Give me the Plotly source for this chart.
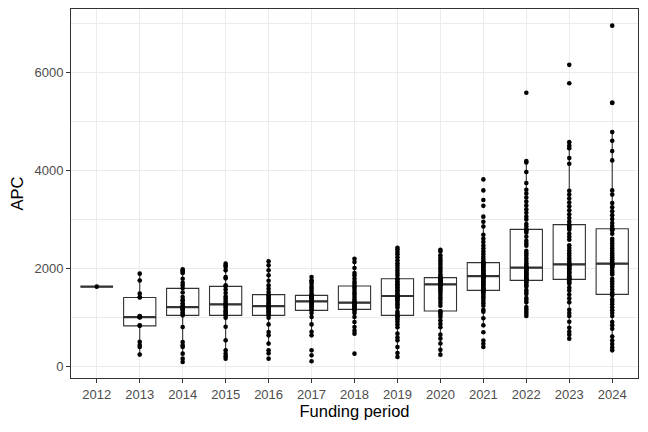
import numpy as np
import plotly.graph_objects as go

# APC values per funding period
years = ['2012', '2013', '2014', '2015', '2016', '2017', '2018',
         '2019', '2020', '2021', '2022', '2023', '2024']

apc_2012 = [1620]
apc_2013 = [233, 390, 430, 495, 820, 830, 990, 1000, 1000, 1000, 1010, 1020,
            1400, 1410, 1480, 1745, 1886]
apc_2014 = [82, 150, 252, 388, 422, 490, 796, 1034, 1060, 1100, 1150, 1150,
            1170, 1200, 1204, 1238, 1280, 1341, 1341, 1408, 1500, 1586, 1647,
            1700, 1783, 1900, 1918, 1950, 1973]
apc_2015 = [150, 200, 252, 320, 524, 800, 985, 1034, 1050, 1085, 1120, 1150,
            1200, 1230, 1259, 1290, 1330, 1380, 1420, 1490, 1560, 1627, 1647,
            1790, 1816, 1953, 2020, 2055, 2090]
apc_2016 = [150, 258, 320, 457, 626, 694, 850, 985, 1034, 1060, 1090, 1120,
            1150, 1170, 1190, 1210, 1224, 1250, 1280, 1310, 1350, 1380, 1410,
            1440, 1457, 1510, 1580, 1650, 1740, 1851, 1953, 2055, 2137]
apc_2017 = [96, 218, 320, 626, 700, 850, 1000, 1080, 1136, 1160, 1190, 1220,
            1250, 1270, 1290, 1310, 1320, 1340, 1360, 1380, 1400, 1410, 1420,
            1435, 1443, 1480, 1530, 1580, 1620, 1680, 1720, 1750, 1816]
apc_2018 = [252, 661, 720, 796, 900, 1000, 1080, 1130, 1157, 1170, 1190, 1210,
            1230, 1250, 1270, 1285, 1293, 1320, 1360, 1410, 1460, 1500, 1550,
            1600, 1633, 1680, 1720, 1783, 1850, 1900, 2000, 2122, 2191]
apc_2019 = [184, 265, 388, 524, 580, 661, 790, 850, 905, 950, 985, 1010,
            1034, 1070, 1110, 1190, 1225, 1260, 1290, 1330, 1350, 1380, 1400,
            1418, 1429, 1450, 1480, 1515, 1545, 1575, 1610, 1640, 1670, 1700,
            1725, 1770, 1783, 1850, 1900, 1950, 2000, 2050, 2100, 2160, 2220,
            2280, 2330, 2380, 2416]
apc_2020 = [232, 330, 460, 560, 640, 790, 860, 930, 1000, 1040, 1080, 1105,
            1122, 1230, 1290, 1350, 1400, 1450, 1500, 1540, 1580, 1615, 1640,
            1655, 1667, 1675, 1685, 1695, 1705, 1715, 1728, 1740, 1752, 1765,
            1790, 1800, 1804, 1830, 1870, 1920, 1965, 2010, 2060, 2110, 2160,
            2210, 2260, 2345, 2375]
apc_2021 = [388, 455, 520, 690, 830, 975, 1110, 1150, 1230, 1280, 1330, 1380,
            1420, 1460, 1495, 1510, 1525, 1545, 1560, 1578, 1595, 1612, 1648,
            1665, 1680, 1710, 1725, 1740, 1770, 1786, 1800, 1815, 1822, 1830,
            1837, 1846, 1860, 1874, 1890, 1905, 1935, 1950, 1964, 1980, 2010,
            2025, 2040, 2068, 2080, 2092, 2102, 2110, 2140, 2185, 2230, 2285,
            2340, 2400, 2460, 2530, 2600, 2680, 2850, 2945, 3050, 3270, 3390,
            3586, 3810]
apc_2022 = [1020, 1065, 1110, 1160, 1205, 1300, 1350, 1390, 1470, 1510, 1550,
            1620, 1650, 1685, 1715, 1738, 1749, 1760, 1774, 1790, 1806, 1836,
            1850, 1866, 1895, 1910, 1926, 1955, 1968, 1980, 1990, 2000, 2008,
            2030, 2065, 2100, 2150, 2200, 2250, 2300, 2350, 2455, 2500, 2555,
            2640, 2720, 2760, 2775, 2790, 2850, 2900, 2990, 3050, 3130, 3200,
            3280, 3360, 3440, 3520, 3600, 3735, 3960, 4157, 4184, 5580]
apc_2023 = [559, 640, 700, 780, 905, 1020, 1080, 1150, 1300, 1380, 1460, 1540,
            1600, 1680, 1710, 1752, 1769, 1790, 1808, 1830, 1850, 1890, 1910,
            1930, 1965, 1980, 1995, 2025, 2040, 2052, 2060, 2070, 2076, 2110,
            2150, 2200, 2250, 2300, 2355, 2410, 2465, 2580, 2640, 2700, 2780,
            2820, 2840, 2875, 2886, 2950, 3020, 3100, 3180, 3260, 3340, 3420,
            3500, 3580, 4131, 4245, 4449, 4500, 4571, 5775, 6150]
apc_2024 = [320, 380, 450, 520, 600, 760, 830, 900, 1020, 1080, 1140, 1200,
            1260, 1310, 1360, 1440, 1463, 1500, 1560, 1620, 1680, 1730, 1780,
            1870, 1910, 1950, 2000, 2020, 2040, 2055, 2065, 2085, 2090, 2140,
            2180, 2220, 2260, 2300, 2350, 2400, 2450, 2500, 2550, 2600, 2700,
            2770, 2785, 2800, 2804, 2860, 2920, 3000, 3080, 3160, 3240, 3330,
            3500, 3586, 4198, 4388, 4600, 4776, 5370, 5380, 6950]

groups = [apc_2012, apc_2013, apc_2014, apc_2015, apc_2016, apc_2017, apc_2018,
          apc_2019, apc_2020, apc_2021, apc_2022, apc_2023, apc_2024]

xs = []
ys = []
for yr, vals in zip(years, groups):
    xs += [yr] * len(vals)
    ys += vals

dark = '#333333'
font = 'Liberation Sans, Arial, sans-serif'

fig = go.Figure()
# points are hidden here (drawn by the scatter below); 'outliers' keeps
# the whiskers at 1.5 IQR like ggplot
fig.add_trace(go.Box(
    x=xs, y=ys, boxpoints='outliers', quartilemethod='inclusive',
    marker=dict(opacity=0, size=1), width=0.75, whiskerwidth=0,
    fillcolor='white', line=dict(color=dark, width=1.1),
    showlegend=False, hoverinfo='skip'))

# ggplot draws the median twice as thick as the box outline
medians = [float(np.median(v)) for v in groups]
fig.add_trace(go.Scatter(
    x=years, y=medians, mode='markers', showlegend=False, hoverinfo='skip',
    marker=dict(symbol='line-ew', size=23.3, line=dict(color=dark, width=2.2))))

fig.add_trace(go.Scatter(
    x=xs, y=ys, mode='markers', showlegend=False,
    marker=dict(color='black', size=4.6)))

# the page body has an 8px margin, so the figure is 8px smaller than the window
fig.update_layout(
    width=640, height=424,
    margin=dict(l=63, r=10, t=1, b=54),
    paper_bgcolor='white', plot_bgcolor='white',
    font=dict(family=font, color='black'),
)
fig.update_xaxes(
    type='category', categoryorder='array', categoryarray=years,
    range=[-0.6, 12.6], automargin=False,
    showgrid=True, gridcolor='#EBEBEB', gridwidth=1.07,
    showline=True, mirror=True, linecolor=dark, linewidth=1.07,
    ticks='outside', ticklen=4, tickcolor=dark, tickwidth=1.07,
    tickfont=dict(size=13, color='#4D4D4D'),
    title=dict(text='Funding period', font=dict(size=16.5), standoff=4),
    zeroline=False,
)
fig.update_yaxes(
    range=[-245, 7290], automargin=False,
    tickvals=[0, 2000, 4000, 6000],
    showgrid=True, gridcolor='#EBEBEB', gridwidth=1.07,
    minor=dict(tickvals=[1000, 3000, 5000, 7000], showgrid=True,
               gridcolor='#EBEBEB', gridwidth=0.55, ticks=''),
    showline=True, mirror=True, linecolor=dark, linewidth=1.07,
    ticks='outside', ticklen=4, tickcolor=dark, tickwidth=1.07,
    tickfont=dict(size=13, color='#4D4D4D'),
    title=dict(text='APC', font=dict(size=16.5), standoff=6),
    zeroline=False,
)

fig.write_html('out.html')
